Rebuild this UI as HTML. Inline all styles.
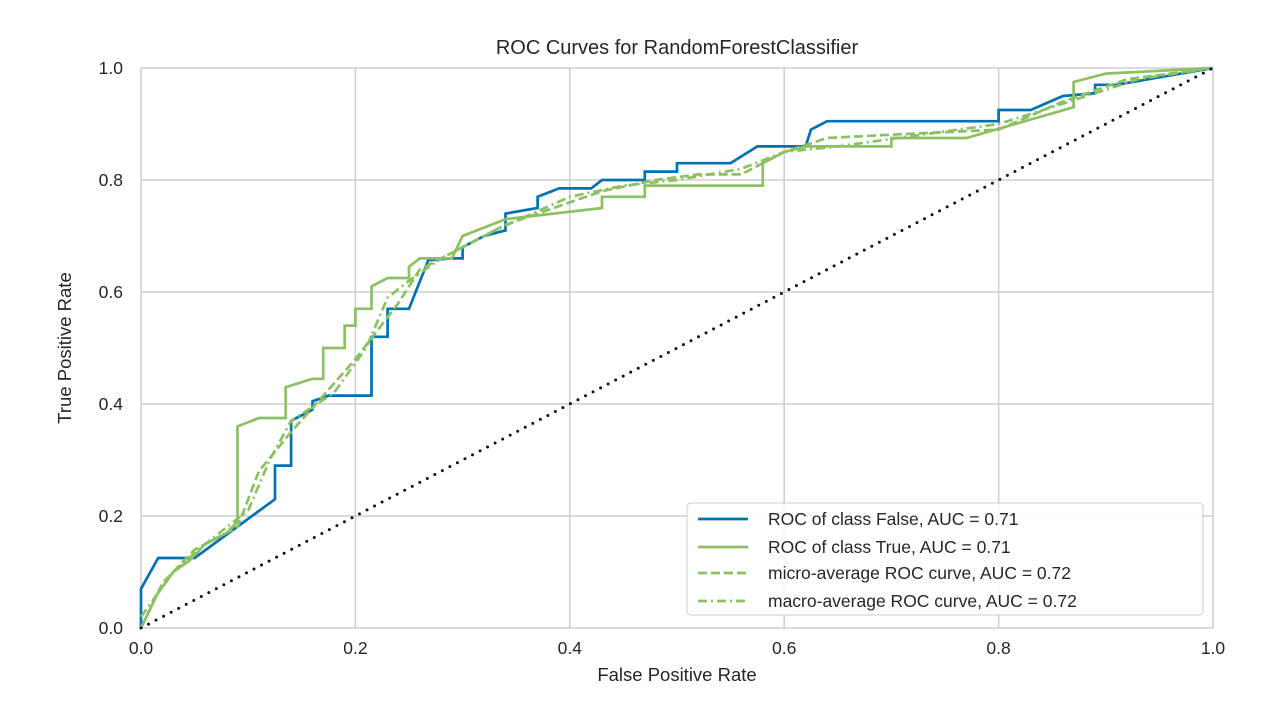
<!DOCTYPE html>
<html><head><meta charset="utf-8"><style>
body{margin:0;background:#fff;}
svg text{font-family:"Liberation Sans",Arial,sans-serif;fill:#262626;}
</style></head><body>
<svg width="1280" height="720">
<rect width="1280" height="720" fill="#fff"/>
<g id="grid"></g>
<g id="curves"></g>
<g id="ticks"></g>
<text x="677" y="54" text-anchor="middle" font-size="20">ROC Curves for RandomForestClassifier</text>
<text x="677" y="681" text-anchor="middle" font-size="18.5">False Positive Rate</text>
<text transform="translate(71,348) rotate(-90)" text-anchor="middle" font-size="18.5">True Positive Rate</text>
<g>
<rect x="687" y="503" width="516" height="112" rx="4" fill="#fff" fill-opacity="0.9" stroke="#ccc"/>
<line x1="698" y1="519" x2="748" y2="519" stroke="#0072B2" stroke-width="2.7"/>
<text x="768" y="525" font-size="17.5">ROC of class False, AUC = 0.71</text>
<line x1="698" y1="547" x2="748" y2="547" stroke="#8cc063" stroke-width="2.7"/>
<text x="768" y="553" font-size="17.5">ROC of class True, AUC = 0.71</text>
<line x1="698" y1="573" x2="748" y2="573" stroke="#8cc063" stroke-width="2.7" stroke-dasharray="9,4"/>
<text x="768" y="579" font-size="17.5">micro-average ROC curve, AUC = 0.72</text>
<line x1="698" y1="601" x2="748" y2="601" stroke="#8cc063" stroke-width="2.7" stroke-dasharray="9,4,2,4"/>
<text x="768" y="607" font-size="17.5">macro-average ROC curve, AUC = 0.72</text>
</g>
</svg>
<script>
const tickValues=[0,0.2,0.4,0.6,0.8,1.0];
const tickLabels=["0.0","0.2","0.4","0.6","0.8","1.0"];
const falseFpr=[0,0,0.016,0.05,0.125,0.125,0.14,0.14,0.16,0.16,0.175,0.215,0.215,0.23,0.23,0.25,0.268,0.29,0.30,0.30,0.32,0.34,0.34,0.37,0.37,0.39,0.42,0.43,0.47,0.47,0.50,0.50,0.55,0.575,0.62,0.625,0.64,0.80,0.80,0.83,0.86,0.89,0.89,0.91,1];
const falseTpr=[0,0.07,0.125,0.125,0.23,0.29,0.29,0.37,0.39,0.405,0.415,0.415,0.52,0.52,0.57,0.57,0.657,0.66,0.66,0.68,0.70,0.71,0.74,0.75,0.77,0.785,0.785,0.80,0.80,0.815,0.815,0.83,0.83,0.86,0.86,0.89,0.905,0.905,0.925,0.925,0.95,0.955,0.97,0.97,1];
const trueFpr=[0,0.015,0.03,0.045,0.06,0.08,0.09,0.09,0.11,0.135,0.135,0.16,0.17,0.17,0.19,0.19,0.20,0.20,0.215,0.215,0.23,0.25,0.25,0.26,0.29,0.30,0.34,0.43,0.43,0.47,0.47,0.58,0.58,0.60,0.62,0.70,0.70,0.77,0.87,0.87,0.90,1];
const trueTpr=[0,0.06,0.10,0.12,0.15,0.17,0.19,0.36,0.375,0.375,0.43,0.445,0.445,0.50,0.50,0.54,0.54,0.57,0.57,0.61,0.625,0.625,0.645,0.66,0.66,0.70,0.73,0.75,0.77,0.77,0.79,0.79,0.83,0.85,0.86,0.86,0.875,0.875,0.93,0.975,0.99,1];
const microFpr=[0,0.02,0.05,0.09,0.11,0.14,0.20,0.24,0.26,0.29,0.34,0.40,0.43,0.48,0.52,0.56,0.60,0.64,0.69,0.80,0.86,0.92,1];
const microTpr=[0,0.08,0.14,0.18,0.28,0.35,0.48,0.58,0.64,0.67,0.72,0.76,0.78,0.80,0.81,0.81,0.85,0.875,0.88,0.89,0.94,0.98,1];
const macroFpr=[0,0.03,0.06,0.10,0.12,0.14,0.18,0.21,0.23,0.25,0.28,0.33,0.40,0.45,0.50,0.56,0.60,0.65,0.80,0.85,0.93,1];
const macroTpr=[0.02,0.10,0.15,0.21,0.30,0.37,0.42,0.50,0.59,0.62,0.66,0.71,0.77,0.79,0.80,0.82,0.85,0.86,0.90,0.93,0.98,1];
const diagX=[0,1];
const diagY=[0,1];

const NS="http://www.w3.org/2000/svg";
const X0=141,X1=1213,Y0=628,Y1=68;
const sx=v=>X0+v*(X1-X0), sy=v=>Y0-v*(Y0-Y1);
function mk(parent,tag,attrs){const e=document.createElementNS(NS,tag);for(const k in attrs)e.setAttribute(k,attrs[k]);parent.appendChild(e);return e;}
const grid=document.getElementById('grid'),ticks=document.getElementById('ticks'),curves=document.getElementById('curves');
tickValues.forEach((t,i)=>{
  const gv=mk(grid,'line',{x1:sx(t),x2:sx(t),y1:Y1,y2:Y0,stroke:'#cfcfcf','stroke-width':1.6});
  
  
  const gh=mk(grid,'line',{x1:X0,x2:X1,y1:sy(t),y2:sy(t),stroke:'#cfcfcf','stroke-width':1.6});
  
  
  const xt=mk(ticks,'text',{x:sx(t),y:654,'text-anchor':'middle','font-size':17.5});
  xt.textContent=tickLabels[i];
  
  
  const yt=mk(ticks,'text',{x:123,y:sy(t)+6,'text-anchor':'end','font-size':17.5});
  yt.textContent=tickLabels[i];
  
  
});
function path(xs,ys){return xs.map((x,i)=>(i?'L':'M')+sx(x).toFixed(1)+','+sy(ys[i]).toFixed(1)).join(' ');}
const p1=mk(curves,'path',{d:path(falseFpr,falseTpr),fill:'none',stroke:'#0072B2','stroke-width':2.7});


const p2=mk(curves,'path',{d:path(trueFpr,trueTpr),fill:'none',stroke:'#8cc063','stroke-width':2.7});


const p3=mk(curves,'path',{d:path(microFpr,microTpr),fill:'none',stroke:'#8cc063','stroke-width':2.7,'stroke-dasharray':'9,4'});


const p4=mk(curves,'path',{d:path(macroFpr,macroTpr),fill:'none',stroke:'#8cc063','stroke-width':2.7,'stroke-dasharray':'9,4,2,4'});


const d=mk(curves,'path',{d:path(diagX,diagY),fill:'none',stroke:'#111','stroke-width':3,'stroke-dasharray':'0,8.5','stroke-linecap':'round'});


</script>
</body></html>
